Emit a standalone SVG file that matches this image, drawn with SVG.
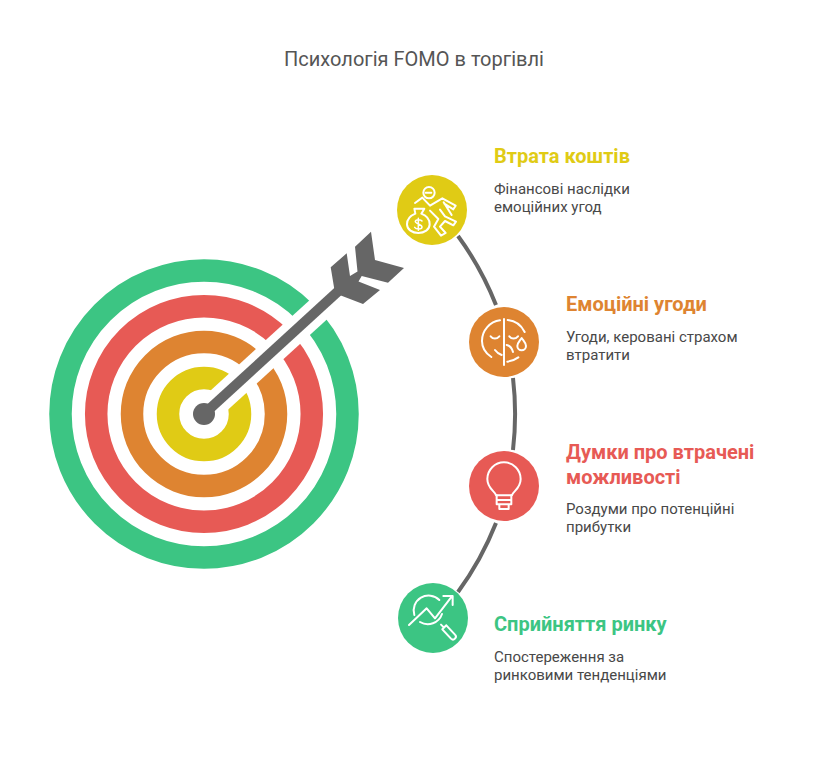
<svg xmlns="http://www.w3.org/2000/svg" width="828" height="780" viewBox="0 0 828 780">
<style>
text{font-family:Roboto,"Liberation Sans",sans-serif}
.t{font-size:20px;fill:#555;text-anchor:middle}
.h{font-size:20px;font-weight:700}
.d{font-size:15px;fill:#484848}
.r{fill:none;stroke-width:22.500}
.i{fill:none;stroke:#fff;stroke-width:6;stroke-linecap:round;stroke-linejoin:round}
.c{fill:none;stroke:#666;stroke-width:4}
</style>
<rect width="828" height="780" fill="#fff"/>
<text class="t" x="414" y="66">Психологія FOMO в торгівлі</text>
<g id="target">
<circle class="r" cx="204" cy="414" r="143.500" stroke="#3cc583"/>
<circle class="r" cx="204" cy="414" r="107.800" stroke="#e75a55"/>
<circle class="r" cx="204" cy="414" r="72" stroke="#de8431"/>
<circle class="r" cx="204" cy="414" r="36" stroke="#e0cb15"/>
<line x1="204" y1="414" x2="340" y2="290" stroke="#fff" stroke-width="26"/>
</g>
<g id="arrow" fill="#666">
<line x1="204" y1="414" x2="345" y2="285" stroke="#666" stroke-width="10"/>
<circle cx="204" cy="414" r="11"/>
<polygon points="371,231.700 375,260 404,268 388,282.700 361.700,276 358.500,281.500 380,290 363,304 335,293.300 330.700,267.300 346.700,253.300 350,276 357.500,271.500 355,246.700"/>
</g>
<g id="connectors">
<path class="c" d="M458 236A311 311 0 0 1 496 305"/>
<path class="c" d="M513 378A311 311 0 0 1 513 450"/>
<path class="c" d="M496 523A311 311 0 0 1 458 592"/>
</g>
<g id="node-1">
<circle cx="432" cy="210" r="35" fill="#e0cb15"/>
<g class="i" transform="translate(385 165) scale(.3333)">
<circle cx="132" cy="83" r="17"/><path d="M122 83h17"/>
<path d="M90 114l22-16 23 24 37-22 40 22-7 11-27-17M176 112l24 38"/>
<path d="M135 137l25 25-13 23 21 27 14-8-17-19 15-17 25 13 8-11-33-16-15-20"/>
<path d="M88 131h30l-9 15c16 6 25 18 25 32 0 16-16 26-34 26s-34-10-34-26c0-14 10-26 25-32z"/>
<path d="M111 168c-3-5-18-6-20 1s20 9 20 17-18 7-22 1M100 160v36" stroke-width="4.500"/>
</g>
<text class="h" x="494" y="163" fill="#e0cb15">Втрата коштів</text>
<text class="d" x="494" y="194">Фінансові наслідки</text>
<text class="d" x="494" y="212">емоційних угод</text>
</g>
<g id="node-2">
<circle cx="504" cy="342" r="35" fill="#de8431"/>
<g class="i" transform="translate(450 295) scale(.3333)">
<path d="M162 72v138"/>
<path d="M150 76c-30 4-54 30-54 62 0 20 11 37 28 48M173 75c22 2 41 16 51 36M172 200c12-1 23-6 33-13"/>
<path d="M122 124c7 9 18 9 26 0M178 124c7 9 18 9 26 0M135 165c5 7 12 12 20 15M170 150c10 2 16 10 19 21"/>
<path d="M215 129c-6 9-13 15-13 24a13 13 0 0 0 26 0c0-9-7-15-13-24z"/>
</g>
<text class="h" x="566" y="311" fill="#de8431">Емоційні угоди</text>
<text class="d" x="566" y="342">Угоди, керовані страхом</text>
<text class="d" x="566" y="360">втратити</text>
</g>
<g id="node-3">
<circle cx="504" cy="486" r="35" fill="#e75a55"/>
<g class="i" transform="translate(450 440) scale(.3333)">
<path d="M138 166c-3-13-26-20-26-49a50 50 0 0 1 100 0c0 29-23 36-26 49z"/>
<path d="M140 166v27h44v-27M140 180h44M148 193v14h28v-14"/>
</g>
<text class="h" x="566" y="459" fill="#e75a55">Думки про втрачені</text>
<text class="h" x="566" y="484" fill="#e75a55">можливості</text>
<text class="d" x="566" y="514">Роздуми про потенційні</text>
<text class="d" x="566" y="532">прибутки</text>
</g>
<g id="node-4">
<circle cx="433" cy="618" r="35" fill="#3cc583"/>
<g class="i" stroke-width="5" transform="translate(385 570) scale(.3333)">
<path d="M88 135a45 45 0 0 1 75-45M171 132a45 45 0 0 1-66 24"/>
<path d="M72 165l53-50 25 30 50-65M175 78h28v27"/>
<path d="M168 164l6 6M172 178l12-12 26 28a8 8 0 0 1-12 12z"/>
</g>
<text class="h" x="494" y="631" fill="#3cc583">Сприйняття ринку</text>
<text class="d" x="494" y="662">Спостереження за</text>
<text class="d" x="494" y="680">ринковими тенденціями</text>
</g>
</svg>
